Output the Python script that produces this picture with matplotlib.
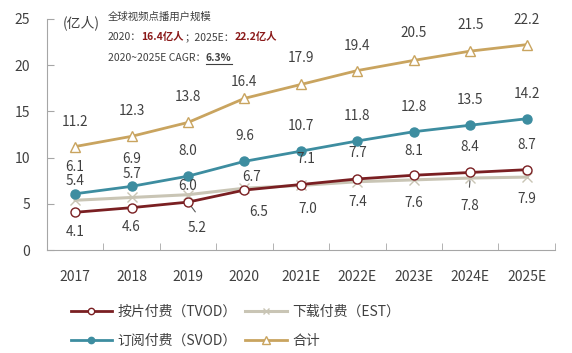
import matplotlib
matplotlib.use('Agg')
from matplotlib import pyplot as plt
import numpy as np

plt.rcParams['font.family'] = ['Noto Sans CJK SC', 'DejaVu Sans']

years = ['2017', '2018', '2019', '2020', '2021E', '2022E', '2023E', '2024E', '2025E']
tvod = [4.1, 4.6, 5.2, 6.5, 7.1, 7.7, 8.1, 8.4, 8.7]
est = [5.4, 5.7, 6.0, 6.7, 7.0, 7.4, 7.6, 7.8, 7.9]
svod = [6.1, 6.9, 8.0, 9.6, 10.7, 11.8, 12.8, 13.5, 14.2]
total = [11.2, 12.3, 13.8, 16.4, 17.9, 19.4, 20.5, 21.5, 22.2]

# label offsets in pixels (dx, dy)
tvod_off = [(0, -20), (0, -19), (9, -26), (14, -22), (5, 26), (0, 26), (0, 24), (0, 25), (0, 25)]
est_off = [(0, 19), (0, 23), (0, 9), (7, 11), (7, -24), (0, -20), (0, -23), (0, -28), (0, -22)]
svod_off = [(0, 27), (0, 27), (0, 25), (0, 25), (0, 25), (0, 25), (0, 25), (0, 25), (0, 25)]
total_off = [(0, 25), (0, 25), (0, 25), (0, 16), (0, 26), (0, 25), (0, 27), (0, 26), (0, 25)]

c_tvod = '#7A1F22'
c_est = '#C9C5B5'
c_svod = '#3D8DA0'
c_total = '#C9A45F'
axc = '#A6A6A6'
txt = '#404040'

fig = plt.figure(figsize=(5.72, 3.53), dpi=100)
ax = fig.add_axes([0.082, 0.291, 0.888, 0.656])
x = np.arange(len(years))

l_tvod, = ax.plot(x, tvod, color=c_tvod, lw=2, marker='o', ms=6.5, mfc='white', mec=c_tvod, mew=1, zorder=4)
l_est, = ax.plot(x, est, color=c_est, lw=2.2, marker='x', ms=7, mec=c_est, mew=1, zorder=3)
l_svod, = ax.plot(x, svod, color=c_svod, lw=2, marker='o', ms=6.5, mfc=c_svod, mec=c_svod, zorder=3)
l_total, = ax.plot(x, total, color=c_total, lw=2, marker='^', ms=7.5, mfc='white', mec=c_total, mew=1, zorder=3)

for vals, offs in [(tvod, tvod_off), (est, est_off), (svod, svod_off), (total, total_off)]:
    for i, v in enumerate(vals):
        ax.annotate(f'{v:.1f}', (x[i], v), xytext=offs[i], textcoords='offset pixels',
                    ha='center', va='center', fontsize=9.8, color=txt, zorder=5)

# leader lines
ax.annotate('', (x[2], tvod[2]), xytext=(9, -12), textcoords='offset pixels',
            arrowprops=dict(arrowstyle='-', color='#555555', lw=0.8))
ax.annotate('', (x[7], est[7]), xytext=(-1, -12), textcoords='offset pixels',
            arrowprops=dict(arrowstyle='-', color='#555555', lw=0.8))

ax.set_xlim(-0.5, len(years) - 0.5)
ax.set_ylim(0, 25)
ax.set_yticks([0, 5, 10, 15, 20, 25])
ax.set_xticks(x)
ax.set_xticklabels(years)
ax.set_xticks(np.arange(-0.5, len(years), 1), minor=True)
ax.tick_params(axis='x', which='major', length=0, pad=14, labelsize=10, labelcolor=txt)
ax.tick_params(axis='x', which='minor', direction='in', length=5, color=axc)
ax.tick_params(axis='y', direction='in', length=5, color=axc, pad=12, labelsize=10, labelcolor=txt)
for s in ['top', 'right']:
    ax.spines[s].set_visible(False)
for s in ['left', 'bottom']:
    ax.spines[s].set_color(axc)

# notes
fig.text(63 / 572, 1 - 23 / 353, '(亿人)', fontsize=10, color=txt, va='center')
fig.text(108 / 572, 1 - 17 / 353, '全球视频点播用户规模', fontsize=7.5, color=txt, va='center')
red = '#8B1A1A'
y2 = 1 - 37 / 353
t = fig.text(108 / 572, y2, '2020：', fontsize=7.5, color=txt, va='center')
fig.canvas.draw()
r = fig.canvas.get_renderer()

def after(prev, s, **kw):
    bb = prev.get_window_extent(r)
    xx = bb.x1 / fig.bbox.width
    return fig.text(xx, prev.get_position()[1], s, va='center', fontsize=7.5, **kw)

t = after(t, '16.4亿人', color=red, fontweight='bold')
t = after(t, '；2025E：', color=txt)
t = after(t, '22.2亿人', color=red, fontweight='bold')

y3 = 1 - 58 / 353
t = fig.text(108 / 572, y3, '2020~2025E CAGR：', fontsize=7.5, color=txt, va='center')
t2 = after(t, '6.3%', color=txt, fontweight='bold', style='italic')
bb = t2.get_window_extent(r)
fig.add_artist(plt.Line2D([bb.x0 / fig.bbox.width, bb.x1 / fig.bbox.width],
                          [bb.y0 / fig.bbox.height - 0.002] * 2, color=txt, lw=0.8))

fig.legend([l_tvod, l_svod, l_est, l_total],
           ['按片付费（TVOD）', '订阅付费（SVOD）', '下载付费（EST）', '合计'],
           ncol=2, loc='center left', bbox_to_anchor=(58 / 572, 1 - 326 / 353),
           frameon=False, fontsize=10, handlelength=3, columnspacing=0.6,
           handletextpad=0.4, labelspacing=1.1, labelcolor=txt, markerscale=0.7)

plt.savefig('out.png', dpi=100)
